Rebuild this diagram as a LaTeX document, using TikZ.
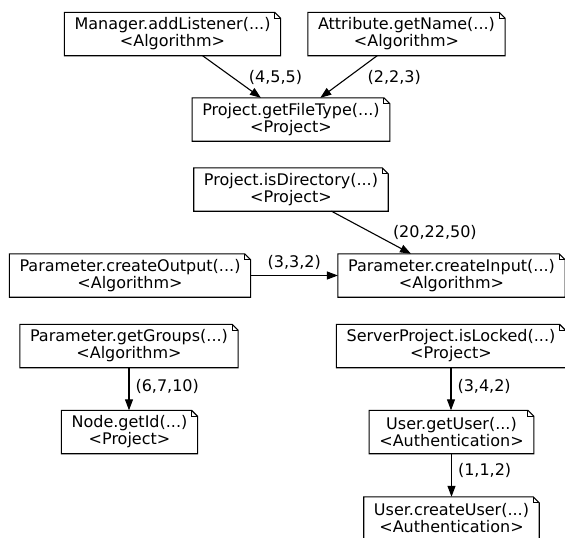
\documentclass[tikz,border=0pt]{standalone}
\usepackage{fontspec}
\setmainfont{DejaVu Sans}
\usetikzlibrary{arrows.meta}
\tikzset{
  note/.style={rectangle, minimum height=43pt, inner xsep=10pt, inner ysep=2pt,
    align=center, font=\fontsize{16pt}{17pt}\selectfont},
  noteline/.style={draw=black, line width=1.1pt, line join=miter},
  conn/.style={draw=black, line width=1.1pt, -{Triangle[length=11pt,width=8pt]}},
  lbl/.style={font=\fontsize{16pt}{17pt}\selectfont, inner sep=1pt},
}
\begin{document}
\begin{tikzpicture}[x=1pt,y=-1pt]
\useasboundingbox (0,0) rectangle (565,538);
\clip (0,0) rectangle (565,538);
\fill[white] (0,0) rectangle (565,538);
% nodes
\node[note] (A) at (172.5,34)  {Manager.addListener(...)\\<Algorithm>};
\node[note] (B) at (406.5,34)  {Attribute.getName(...)\\<Algorithm>};
\node[note] (C) at (291,119.5) {Project.getFileType(...)\\<Project>};
\node[note] (D) at (291,189.5) {Project.isDirectory(...)\\<Project>};
\node[note] (E) at (130,275.5) {Parameter.createOutput(...)\\<Algorithm>};
\node[note] (F) at (451.5,275.5) {Parameter.createInput(...)\\<Algorithm>};
\node[note] (G) at (129,346)   {Parameter.getGroups(...)\\<Algorithm>};
\node[note] (H) at (129.5,432) {Node.getId(...)\\<Project>};
\node[note] (I) at (451,346)   {ServerProject.isLocked(...)\\<Project>};
\node[note] (J) at (451.5,432) {User.getUser(...)\\<Authentication>};
\node[note] (K) at (451.5,518.5) {User.createUser(...)\\<Authentication>};
% note outlines with folded corner
\foreach \n in {A,B,C,D,E,F,G,H,I,J,K}{
  \draw[noteline] (\n.south west) -- (\n.north west) -- ([xshift=-6pt]\n.north east)
    -- ([yshift=-6pt]\n.north east) -- (\n.south east) -- cycle;
  \draw[noteline] ([xshift=-6pt]\n.north east) -- ([xshift=-6pt,yshift=-6pt]\n.north east)
    -- ([yshift=-6pt]\n.north east);
}
% connectors
\draw[conn] (A) -- node[lbl, pos=0.51, anchor=west, xshift=15pt] (lAC) {(4,5,5)} (C);
\draw[conn] (B) -- node[lbl, pos=0.51, anchor=west, xshift=18pt] (lBC) {(2,2,3)} (C);
\draw[conn] (D) -- node[lbl, pos=0.49, anchor=west, xshift=21pt] (lDF) {(20,22,50)} (F);
\draw[conn] (E) -- node[lbl, midway, above=4pt] (lEF) {(3,3,2)} (F);
\draw[conn] (G.south) -- node[lbl, pos=0.45, anchor=west, xshift=5pt] (lGH) {(6,7,10)} (G.south |- H.north);
\draw[conn] (I.south) -- node[lbl, pos=0.45, anchor=west, xshift=5pt] (lIJ) {(3,4,2)} (I.south |- J.north);
\draw[conn] (J.south) -- node[lbl, pos=0.4, anchor=west, xshift=5pt] (lJK) {(1,1,2)} (J.south |- K.north);
\end{tikzpicture}
\end{document}
